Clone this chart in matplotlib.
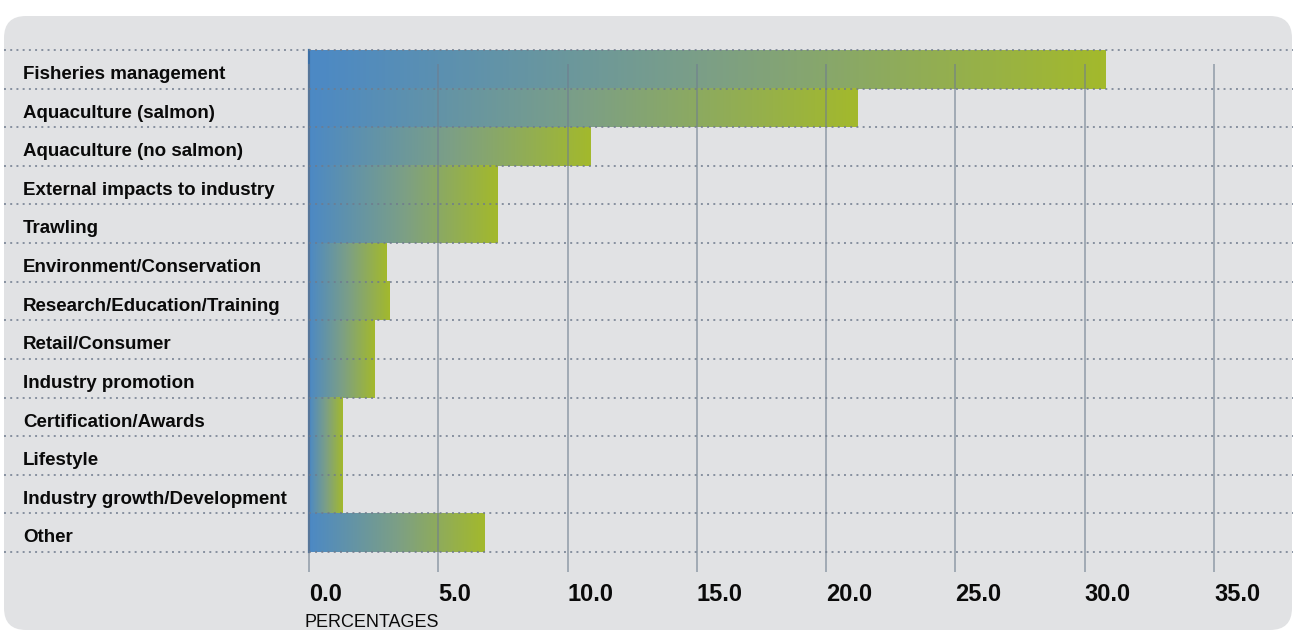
import numpy as np
import matplotlib
matplotlib.use("Agg")
import matplotlib.pyplot as plt
from matplotlib.patches import FancyBboxPatch
from matplotlib.colors import LinearSegmentedColormap
from matplotlib.transforms import IdentityTransform

categories = [
    "Fisheries management",
    "Aquaculture (salmon)",
    "Aquaculture (no salmon)",
    "External impacts to industry",
    "Trawling",
    "Environment/Conservation",
    "Research/Education/Training",
    "Retail/Consumer",
    "Industry promotion",
    "Certification/Awards",
    "Lifestyle",
    "Industry growth/Development",
    "Other",
]
values = [30.8, 21.2, 10.9, 7.3, 7.3, 3.0, 3.1, 2.55, 2.55, 1.3, 1.3, 1.3, 6.8]
tick_values = [0, 5, 10, 15, 20, 25, 30, 35]
tick_labels = ["0.0", "5.0", "10.0", "15.0", "20.0", "25.0", "30.0", "35.0"]
axis_title = "PERCENTAGES"

W, H = 1293, 632
FONT = ["Liberation Sans", "DejaVu Sans"]

# pixel layout of the plotting grid
X0_PX, UNIT_PX = 309.0, (1214.0 - 309.0) / 35.0
ROW_TOP_PX, ROW_PX = 50.0, (552.0 - 50.0) / 13.0


def xd(px):
    return (px - X0_PX) / UNIT_PX


def yd(py):
    return -0.5 + (py - ROW_TOP_PX) / ROW_PX


fig = plt.figure(figsize=(W / 100, H / 100), dpi=100)
fig.patch.set_facecolor("white")

panel = FancyBboxPatch((4, 2), 1288, 614,
                       boxstyle="round,pad=0,rounding_size=22",
                       transform=IdentityTransform(),
                       facecolor="#e1e2e4", edgecolor="none", zorder=-5)
fig.patches.append(panel)

ax = fig.add_axes([0, 0, 1, 1])
ax.set_zorder(1)
ax.set_facecolor("none")
ax.axis("off")

cmap = LinearSegmentedColormap.from_list("bar", ["#4c89c5", "#7c9f86", "#a3b92c"])
grad = np.linspace(0, 1, 256).reshape(1, -1)

for i, v in enumerate(values):
    ax.imshow(grad, extent=(0, v, i + 0.5, i - 0.5), cmap=cmap,
              aspect="auto", interpolation="bilinear", zorder=2)

# left edge of the bars
ax.plot([0, 0], [-0.5, len(values) - 0.5], color="#3b6fa6", lw=1.6, zorder=3)

# vertical grid
for t in tick_values:
    ax.plot([t, t], [yd(64), yd(572)], color="#6f7d8f", alpha=0.6, lw=1.3,
            zorder=4, solid_capstyle="butt")

# dotted row separators
for k in range(len(values) + 1):
    ax.plot([xd(4), xd(1293)], [k - 0.5, k - 0.5], color="#6f7b8d", alpha=0.8,
            lw=1.4, ls=(0, (1, 2.2)), zorder=5)

for i, cat in enumerate(categories):
    ax.text(xd(23), i + 9.7 / ROW_PX, cat, ha="left", va="baseline",
            fontsize=13.5, fontweight="bold", family=FONT, color="#0a0a0a",
            zorder=6)

for t, lab in zip(tick_values, tick_labels):
    ax.text(t, yd(601), lab, ha="left", va="baseline", fontsize=17,
            fontweight="bold", family=FONT, color="#0a0a0a", zorder=6)

ax.text(xd(305), yd(627), axis_title, ha="left", va="baseline", fontsize=13,
        family=FONT, color="#0a0a0a", zorder=6)

ax.set_xlim(xd(0), xd(W))
ax.set_ylim(yd(H), yd(0))

fig.savefig("out.png", dpi=100, facecolor="white")
